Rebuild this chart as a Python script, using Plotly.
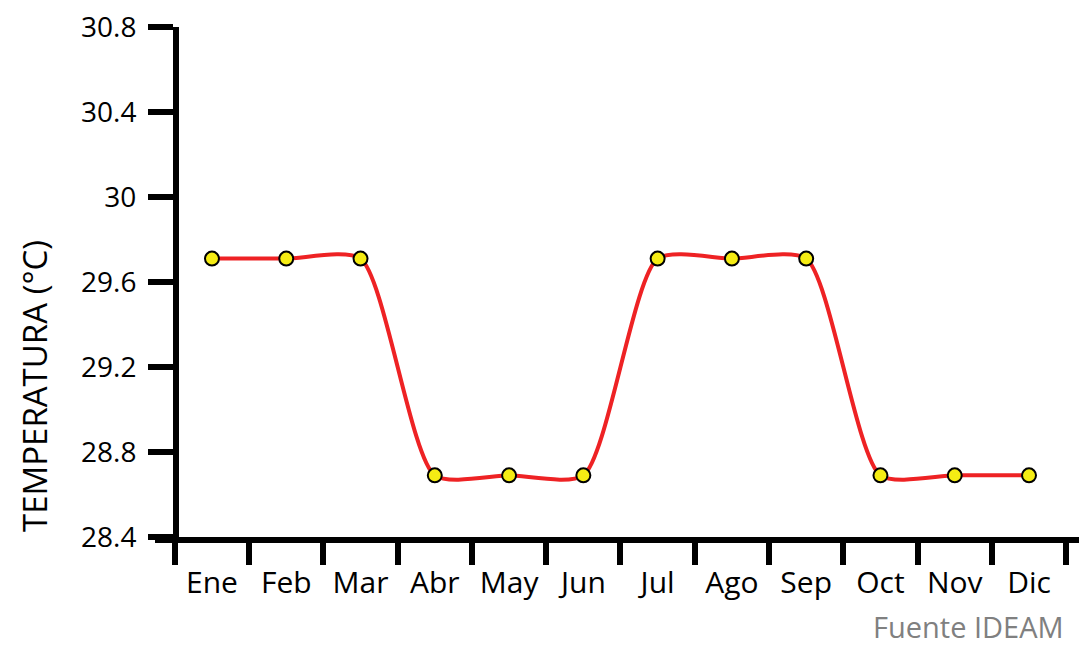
import plotly.graph_objects as go

months = ["Ene", "Feb", "Mar", "Abr", "May", "Jun", "Jul", "Ago", "Sep", "Oct", "Nov", "Dic"]
temperatura = [29.71, 29.71, 29.71, 28.69, 28.69, 28.69, 29.71, 29.71, 29.71, 28.69, 28.69, 28.69]
y_ticks = [28.4, 28.8, 29.2, 29.6, 30.0, 30.4, 30.8]
y_tick_text = ["28.4", "28.8", "29.2", "29.6", "30", "30.4", "30.8"]

FONT = "Open Sans"

fig = go.Figure()
fig.add_trace(go.Scatter(
    x=months, y=temperatura, mode="lines+markers",
    line=dict(color="#ee2224", width=4, shape="spline", smoothing=0.65),
    marker=dict(size=14, color="#f5ec14", line=dict(color="black", width=2)),
    showlegend=False, cliponaxis=False,
))

W, H = 1079, 645
ml, mr, mt, mb = 155, 0, 27, 108
pw = W - ml - mr
ph = H - mt - mb

fig.update_layout(
    width=W, height=H,
    margin=dict(l=ml, r=mr, t=mt, b=mb, autoexpand=False),
    plot_bgcolor="white", paper_bgcolor="white",
    font=dict(family=FONT, size=28, color="black"),
    xaxis=dict(
        type="category", range=[-0.767, 11.673],
        showgrid=False, zeroline=False, automargin=False,
        showline=True, linecolor="black", linewidth=6,
        ticks="outside", ticklen=22, tickwidth=6, tickcolor="black",
        tickson="boundaries", ticklabelstandoff=14,
        tickfont=dict(family=FONT, size=30, color="black"),
    ),
    yaxis=dict(
        range=[28.4, 30.8], tickvals=y_ticks, ticktext=y_tick_text,
        showgrid=False, zeroline=False, automargin=False,
        showline=True, linecolor="black", linewidth=6,
        ticks="outside", ticklen=25, tickwidth=6, tickcolor="black",
        anchor="free", position=(176 - ml) / pw,
        ticklabelstandoff=6,
        tickfont=dict(family=FONT, size=28, color="black"),
    ),
    annotations=[
        dict(text="TEMPERATURA (°C)", xref="paper", yref="paper",
             x=(35 - ml) / pw, y=(537 - 386) / ph, textangle=-90,
             showarrow=False, font=dict(family=FONT, size=33, color="black"),
             xanchor="center", yanchor="middle"),
        dict(text="Fuente IDEAM", xref="paper", yref="paper",
             x=(1066 - ml) / pw, y=(537 - 626) / ph,
             showarrow=False, font=dict(family=FONT, size=29, color="#808080"),
             xanchor="right", yanchor="middle"),
    ],
)

fig.write_html("out.html", config={"displayModeBar": False},
               post_script="document.body.style.margin='0';")
